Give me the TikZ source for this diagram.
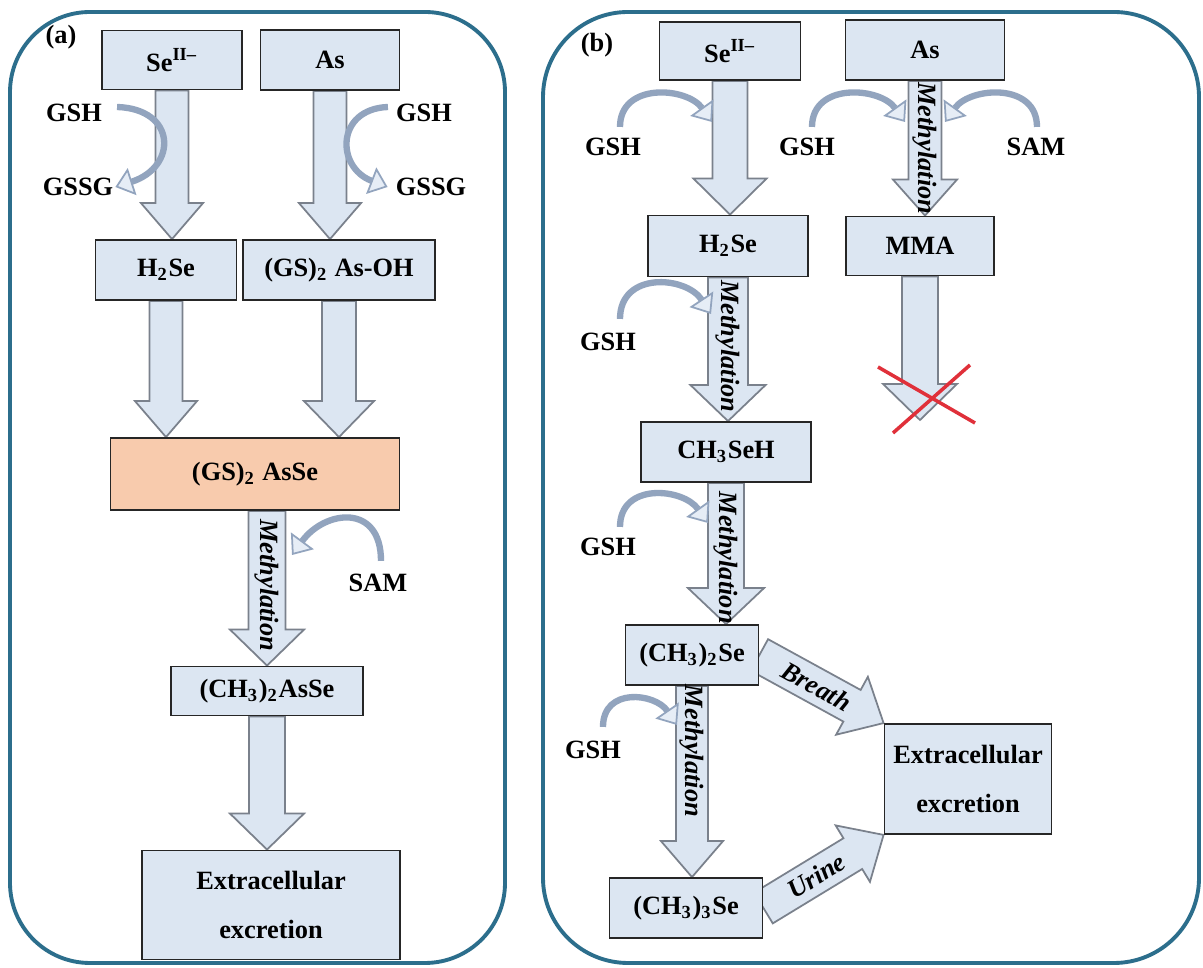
\documentclass[tikz,border=0pt]{standalone}
\usepackage{fontspec}
\setmainfont{Liberation Serif}
\usetikzlibrary{arrows.meta,calc}
\pgfdeclarelayer{back}
\pgfsetlayers{back,main}
\definecolor{boxblue}{HTML}{DCE6F2}
\definecolor{peach}{HTML}{F8CBAD}
\definecolor{framecol}{HTML}{2C6E8C}
\definecolor{curvecol}{HTML}{92A4BE}
\definecolor{arrline}{HTML}{7A818C}
\definecolor{crossred}{HTML}{E0303A}

\begin{document}
\begin{tikzpicture}[x=0.01cm,y=-0.01cm,
    font=\fontsize{7.5}{9}\selectfont\bfseries,
    box/.style={draw=black!85, line width=0.5pt, fill=boxblue, inner sep=0pt},
    lbl/.style={inner sep=1pt},
    mlab/.style={sloped, inner sep=0pt, font=\fontsize{7.5}{9}\selectfont\bfseries\itshape},
    panel/.style={draw=framecol, line width=1.1pt},
    cur/.style={draw=curvecol, line width=1.8pt,
        -{Triangle[width=8pt,length=5pt,fill=boxblue!70,line width=0.5pt]}},
    blk/.style 2 args={every edge/.style={draw=arrline, fill=boxblue, line width=0.5pt},
        to path={let \p3=($(\tikztotarget)!0.36cm!(\tikztostart)$) in
        ($(\tikztostart)!#1!90:(\tikztotarget)$) -- ($(\p3)!#1!90:(\tikztotarget)$)
        -- ($(\p3)!#2!90:(\tikztotarget)$) -- (\tikztotarget)
        -- ($(\p3)!#2!-90:(\tikztotarget)$) -- ($(\p3)!#1!-90:(\tikztotarget)$)
        -- ($(\tikztostart)!#1!-90:(\tikztotarget)$) -- cycle}},
    xmark/.style={draw=crossred, line width=1pt}]

    \useasboundingbox (0,0) rectangle (1203,968);
    \draw[panel, rounded corners=0.8cm] (10,12) rectangle (505,963);
    \draw[panel, rounded corners=0.85cm] (543,12) rectangle (1199,963);

    % (a)
    \node[lbl] (pa) at (61,37) {(a)};
    \node[box, minimum width=1.40cm, minimum height=0.59cm] (Sea) at (172,60) {Se\textsuperscript{II--}};
    \node[box, minimum width=1.39cm, minimum height=0.60cm] (Asa) at (330,60) {As};
    \node[box, minimum width=1.41cm, minimum height=0.60cm] (H2a) at (166,270) {H\textsubscript{2}Se};
    \node[box, minimum width=1.92cm, minimum height=0.60cm] (GSOH) at (339,270) {(GS)\textsubscript{2} As-OH};
    \node[box, fill=peach, minimum width=2.89cm, minimum height=0.72cm] (GSAsSe) at (255,474) {(GS)\textsubscript{2} AsSe};
    \node[box, minimum width=1.92cm, minimum height=0.49cm] (DMAs) at (267,691) {(CH\textsubscript{3})\textsubscript{2}AsSe};
    \node[box, minimum width=2.58cm, minimum height=1.09cm, align=center,
        font=\fontsize{7.5}{13.7}\selectfont\bfseries] (Exa) at (271,905) {Extracellular\\excretion};

    \node[lbl] (GSHa1) at (74,113) {GSH};
    \node[lbl] (GSSGa1) at (78,187) {GSSG};
    \node[lbl] (GSHa2) at (424,113) {GSH};
    \node[lbl] (GSSGa2) at (431,187) {GSSG};
    \node[lbl] (SAMa) at (378,583) {SAM};
    \coordinate (sa) at (292,555);

    % (b)
    \node[lbl] (pb) at (597,45) {(b)};
    \node[box, minimum width=1.41cm, minimum height=0.58cm] (Seb) at (730,51) {Se\textsuperscript{II--}};
    \node[box, minimum width=1.59cm, minimum height=0.60cm] (Asb) at (925,50) {As};
    \node[box, minimum width=1.60cm, minimum height=0.61cm] (H2b) at (728,246) {H\textsubscript{2}Se};
    \node[box, minimum width=1.48cm, minimum height=0.59cm] (MMA) at (920,246) {MMA};
    \node[box, minimum width=1.70cm, minimum height=0.60cm] (MeSe) at (726,452) {CH\textsubscript{3}SeH};
    \node[box, minimum width=1.33cm, minimum height=0.60cm] (DMSe) at (692,655) {(CH\textsubscript{3})\textsubscript{2}Se};
    \node[box, minimum width=1.53cm, minimum height=0.60cm] (TMSe) at (686,908) {(CH\textsubscript{3})\textsubscript{3}Se};
    \node[box, minimum width=1.67cm, minimum height=1.10cm, align=center,
        font=\fontsize{7.5}{13.7}\selectfont\bfseries] (Exb) at (968,779) {Extracellular\\excretion};

    \node[lbl] (GSHb1) at (613,147) {GSH};
    \node[lbl] (GSHb2) at (807,147) {GSH};
    \node[lbl] (SAMb) at (1036,147) {SAM};
    \node[lbl] (GSHb3) at (608,342) {GSH};
    \node[lbl] (GSHb4) at (608,547) {GSH};
    \node[lbl] (GSHb5) at (593,750) {GSH};
    \coordinate (t1) at (712,122);
    \coordinate (t2) at (905,122);
    \coordinate (t3) at (945,122);
    \coordinate (t4) at (711,314);
    \coordinate (t5) at (708,523);
    \coordinate (t6) at (677,725);
    \coordinate (stop) at (925,420);

    \begin{pgfonlayer}{back}
    \fill[white] (0,0) rectangle (1203,968);
    \path [blk={0.165cm}{0.31cm}](Sea.south) edge (Sea.south |- H2a.north);
    \path [blk={0.165cm}{0.31cm}](Asa.south) edge (Asa.south |- GSOH.north);
    \path [blk={0.165cm}{0.31cm}](H2a.south) edge (H2a.south |- GSAsSe.north);
    \path [blk={0.17cm}{0.35cm}](GSOH.south) edge (GSOH.south |- GSAsSe.north);
    \path [blk={0.185cm}{0.37cm}](DMAs.north |- GSAsSe.south) edge (DMAs.north);
    \path [blk={0.18cm}{0.37cm}](DMAs.south) edge (DMAs.south |- Exa.north);

    \path [blk={0.175cm}{0.365cm}](Seb.south) edge (Seb.south |- H2b.north);
    \path [blk={0.165cm}{0.32cm}](Asb.south) edge (Asb.south |- MMA.north);
    \path [blk={0.18cm}{0.37cm}](MMA.south) edge (MMA.south |- stop);
    \path [blk={0.2cm}{0.375cm}](H2b.south) edge (H2b.south |- MeSe.north);
    \path [blk={0.18cm}{0.38cm}](MeSe.south) edge (MeSe.south |- DMSe.north);
    \path [blk={0.16cm}{0.31cm}](DMSe.south) edge (DMSe.south |- TMSe.north);
    \path [blk={0.18cm}{0.33cm}](DMSe.east) edge (Exb.north west);
    \path [blk={0.18cm}{0.33cm}](TMSe.east) edge (Exb.south west);
    \end{pgfonlayer}

    \path (DMAs.north |- GSAsSe.south) -- (DMAs.north) node[mlab, pos=0.48] {Methylation};
    \path (Asb.south) -- (Asb.south |- MMA.north) node[mlab, pos=0.5] {Methylation};
    \path (H2b.south) -- (H2b.south |- MeSe.north) node[mlab, pos=0.48] {Methylation};
    \path (MeSe.south) -- (MeSe.south |- DMSe.north) node[mlab, pos=0.53] {Methylation};
    \path (DMSe.south) -- (DMSe.south |- TMSe.north) node[mlab, pos=0.34] {Methylation};
    \path (DMSe.east) -- (Exb.north west) node[mlab, pos=0.46] {Breath};
    \path (TMSe.east) -- (Exb.south west) node[mlab, pos=0.44] {Urine};

    \draw[cur] ([shift={(11,-6)}]GSHa1.east) .. controls +(60,2) and +(62,-20) .. ([shift={(-2,0)}]GSSGa1.east);
    \draw[cur] ([shift={(-4,-6)}]GSHa2.west) .. controls +(-52,2) and +(-52,-20) .. ([shift={(-4,0)}]GSSGa2.west);
    \draw[cur] ([shift={(3,-9)}]SAMa.north) .. controls +(0,-58) and +(33,-45) .. (sa);

    \draw[cur] ([shift={(7,-7)}]GSHb1.north) .. controls +(0,-45) and +(-25,-35) .. (t1);
    \draw[cur] ([shift={(5,-7)}]GSHb2.north) .. controls +(0,-45) and +(-25,-35) .. (t2);
    \draw[cur] ([shift={(1,-7)}]SAMb.north) .. controls +(0,-45) and +(25,-35) .. (t3);
    \draw[cur] ([shift={(12,-10)}]GSHb3.north) .. controls +(0,-48) and +(-25,-38) .. (t4);
    \draw[cur] ([shift={(12,-7)}]GSHb4.north) .. controls +(0,-45) and +(-25,-35) .. (t5);
    \draw[cur] ([shift={(10,-10)}]GSHb5.north) .. controls +(0,-40) and +(-22,-32) .. (t6);

    \draw[xmark] (878,367) -- (975,423);
    \draw[xmark] (970,365) -- (893,433);

\end{tikzpicture}
\end{document}
